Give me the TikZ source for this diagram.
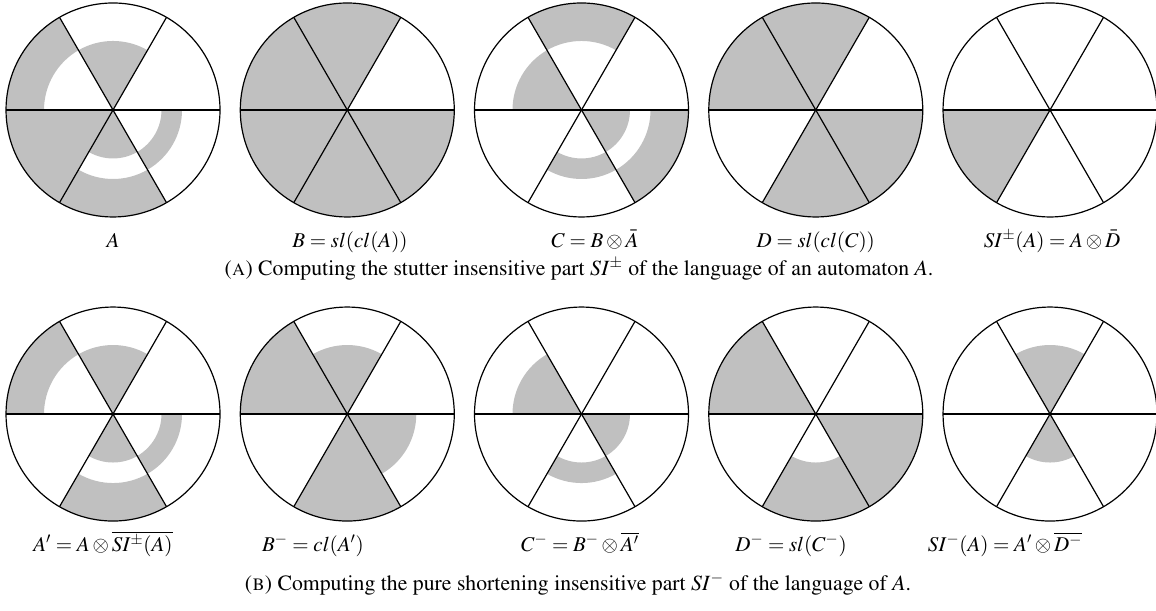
\documentclass[tikz,border=0pt]{standalone}
\usepackage[T1]{fontenc}
\usepackage{mathptmx}
\definecolor{partgray}{RGB}{192,192,192}
\tikzset{
	fillpart/.style={fill=partgray},
	rim/.style={draw=black, line width=0.8pt},
	lbl/.style={anchor=base, font=\fontsize{14}{17}\selectfont},
	capt/.style={anchor=base, font=\fontsize{14.5}{17}\selectfont}
}
% radii of the three rings
\def\rinner{1.136}
\def\rmid{1.617}
\def\rout{2.507}
% one gray piece of sector #1 between radius #2 and #3
\newcommand{\band}[3]{\fill[fillpart] (#1*60:#3) arc[start angle=#1*60, end angle=#1*60+60, radius=#3] -- (#1*60+60:#2) arc[start angle=#1*60+60, end angle=#1*60, radius=#2] -- cycle;}
\newcommand{\drawwheel}{%
	\draw[rim] (0,0) circle[radius=\rout];
	\foreach \a in {0,60,120} \draw[rim] (\a:\rout) -- (\a+180:\rout);}

\begin{document}
\begin{tikzpicture}

		\useasboundingbox (0,0) rectangle (27.086,14.293);

		% A
		\begin{scope}[shift={(2.648,11.716)}]
			\band{1}{0}{\rmid}
			\band{2}{\rmid}{\rout}
			\band{3}{0}{\rout}
			\band{4}{0}{\rinner}
			\band{4}{\rmid}{\rout}
			\band{5}{\rinner}{\rmid}
			\drawwheel
		\end{scope}
		% B
		\begin{scope}[shift={(8.137,11.716)}]
			\foreach \s in {1,...,5} {\band{\s}{0}{\rout}}
			\drawwheel
		\end{scope}
		% C
		\begin{scope}[shift={(13.625,11.716)}]
			\band{1}{\rmid}{\rout}
			\band{2}{0}{\rmid}
			\band{4}{\rinner}{\rmid}
			\band{5}{0}{\rinner}
			\band{5}{\rmid}{\rout}
			\drawwheel
		\end{scope}
		% D
		\begin{scope}[shift={(19.114,11.716)}]
			\foreach \s in {1,2,4,5} {\band{\s}{0}{\rout}}
			\drawwheel
		\end{scope}
		% SI+-
		\begin{scope}[shift={(24.603,11.716)}]
			\band{3}{0}{\rout}
			\drawwheel
		\end{scope}

		% A'
		\begin{scope}[shift={(2.648,4.592)}]
			\band{1}{0}{\rmid}
			\band{2}{\rmid}{\rout}
			\band{4}{0}{\rinner}
			\band{4}{\rmid}{\rout}
			\band{5}{\rinner}{\rmid}
			\drawwheel
		\end{scope}
		% B-
		\begin{scope}[shift={(8.137,4.592)}]
			\band{1}{0}{\rmid}
			\band{2}{0}{\rout}
			\band{4}{0}{\rout}
			\band{5}{0}{\rmid}
			\drawwheel
		\end{scope}
		% C-
		\begin{scope}[shift={(13.625,4.592)}]
			\band{2}{0}{\rmid}
			\band{4}{\rinner}{\rmid}
			\band{5}{0}{\rinner}
			\drawwheel
		\end{scope}
		% D-
		\begin{scope}[shift={(19.114,4.592)}]
			\band{2}{0}{\rout}
			\band{4}{\rinner}{\rout}
			\band{5}{0}{\rout}
			\drawwheel
		\end{scope}
		% SI-
		\begin{scope}[shift={(24.603,4.592)}]
			\band{1}{0}{\rmid}
			\band{4}{0}{\rinner}
			\drawwheel
		\end{scope}

		\node[lbl] (la) at (2.648,8.505) {$A$};
		\node[lbl] (lb) at (8.200,8.505) {$B = sl(cl(A))$};
		\node[lbl] (lc) at (13.940,8.505) {$C = B \otimes \bar{A}$};
		\node[lbl] (ld) at (19.114,8.505) {$D = sl(cl(C))$};
		\node[lbl] (lsi) at (24.650,8.505) {$SI^{\pm}(A) = A \otimes \bar{D}$};
		\node[capt] (capa) at (13.566,7.849) {(\textsc{a}) Computing the stutter insensitive part $SI^{\pm}$ of the language of an automaton $A$.};

		\node[lbl] (lap) at (2.413,1.382) {$A' = A \otimes \overline{SI^{\pm}(A)}$};
		\node[lbl] (lbm) at (7.334,1.382) {$B^{-} = cl(A')$};
		\node[lbl] (lcm) at (13.590,1.382) {$C^{-} = B^{-} \otimes \overline{A'}$};
		\node[lbl] (ldm) at (18.534,1.382) {$D^{-} = sl(C^{-})$};
		\node[lbl] (lsim) at (23.548,1.382) {$SI^{-}(A) = A' \otimes \overline{D^{-}}$};
		\node[capt] (capb) at (13.543,0.469) {(\textsc{b}) Computing the pure shortening insensitive part $SI^{-}$ of the language of $A$.};

	\end{tikzpicture}
\end{document}
